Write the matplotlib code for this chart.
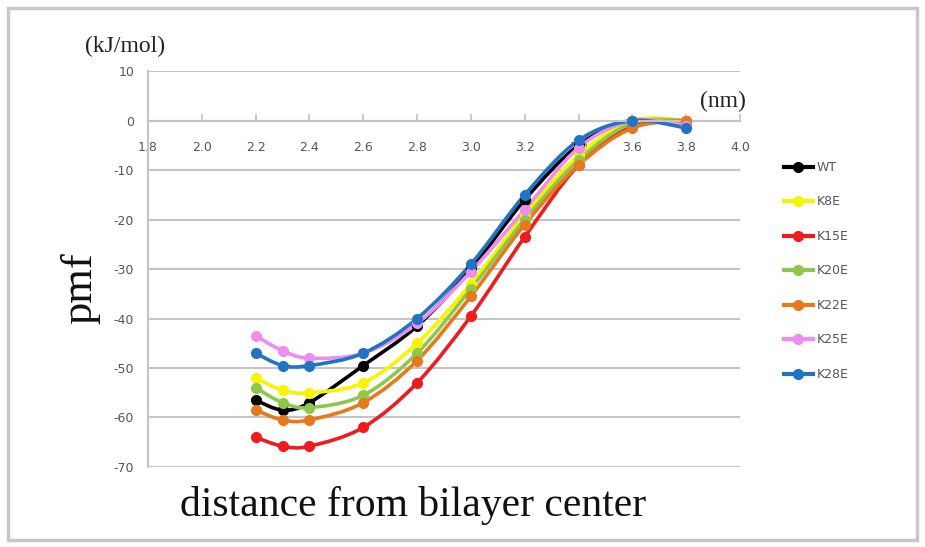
import numpy as np
import matplotlib.pyplot as plt
from matplotlib.path import Path
from matplotlib.patches import PathPatch, FancyBboxPatch
from matplotlib.lines import Line2D

plt.rcParams["axes.unicode_minus"] = False

# distance from bilayer center (nm)
distance = [2.2, 2.3, 2.4, 2.6, 2.8, 3.0, 3.2, 3.4, 3.6, 3.8]

# pmf (kJ/mol) for each mutant
wt = [-56.5, -58.5, -57.0, -49.5, -41.5, -30.0, -16.0, -5.0, 0.0, -1.0]
k8e = [-52.0, -54.5, -55.0, -53.0, -45.0, -33.0, -19.0, -7.0, 0.0, 0.0]
k15e = [-64.0, -65.8, -65.8, -62.0, -53.0, -39.5, -23.5, -9.0, -1.0, 0.0]
k20e = [-54.0, -57.0, -58.0, -55.5, -47.0, -34.0, -20.0, -8.0, -0.5, 0.0]
k22e = [-58.5, -60.5, -60.5, -57.0, -48.5, -35.5, -21.0, -9.0, -1.5, 0.0]
k25e = [-43.5, -46.5, -48.0, -47.0, -41.0, -30.5, -18.0, -5.5, 0.0, -1.0]
k28e = [-47.0, -49.5, -49.5, -47.0, -40.0, -29.0, -15.0, -4.0, 0.0, -1.5]

labels = ["WT", "K8E", "K15E", "K20E", "K22E", "K25E", "K28E"]
series = [wt, k8e, k15e, k20e, k22e, k25e, k28e]
colors = ["#000000", "#f8f400", "#ee1c1c", "#8cc84b", "#e6781e", "#f08cf0", "#1f74c4"]

xticks = [1.8, 2.0, 2.2, 2.4, 2.6, 2.8, 3.0, 3.2, 3.4, 3.6, 3.8, 4.0]
yticks = [10, 0, -10, -20, -30, -40, -50, -60, -70]


def smooth_path(x, y):
    # Excel-like smoothed line: bezier segments through the data points
    pts = np.column_stack([x, y])
    verts = [pts[0]]
    codes = [Path.MOVETO]
    n = len(pts)
    for i in range(n - 1):
        p0 = pts[max(i - 1, 0)]
        p1 = pts[i]
        p2 = pts[i + 1]
        p3 = pts[min(i + 2, n - 1)]
        c1 = p1 + (p2 - p0) / 6.0
        c2 = p2 - (p3 - p1) / 6.0
        verts += [c1, c2, p2]
        codes += [Path.CURVE4] * 3
    return Path(verts, codes)


fig = plt.figure(figsize=(9.25, 5.47), dpi=100)
fig.patches.append(FancyBboxPatch((0.009, 0.013), 0.982, 0.972, boxstyle="square,pad=0",
                                  transform=fig.transFigure, fill=False,
                                  edgecolor="#c8c8c8", linewidth=2.5))

ax = fig.add_axes([0.16, 0.1463, 0.64, 0.7237])
ax.set_xlim(1.8, 4.0)
ax.set_ylim(-70, 10)

for yv in yticks:
    ax.axhline(yv, color="#c4c4c4", linewidth=1.5, zorder=0)

for ys, c in zip(series, colors):
    ax.add_patch(PathPatch(smooth_path(distance, ys), facecolor="none",
                           edgecolor=c, linewidth=2.6, zorder=2))
    ax.plot(distance, ys, linestyle="none", marker="o", markersize=7,
            color=c, zorder=3)

ax.spines["top"].set_visible(False)
ax.spines["right"].set_visible(False)
ax.spines["bottom"].set_position(("data", 0))
ax.spines["bottom"].set_color("#c4c4c4")
ax.spines["bottom"].set_linewidth(1.5)
ax.spines["left"].set_color("#c4c4c4")
ax.spines["left"].set_linewidth(1.5)

ax.set_xticks(xticks)
ax.set_xticklabels([f"{v:.1f}" for v in xticks])
ax.set_yticks(yticks)
ax.tick_params(axis="x", direction="in", length=5, width=1.2, color="#c4c4c4",
               pad=15, labelsize=9, labelcolor="#555555")
ax.tick_params(axis="y", length=0, pad=10, labelsize=9, labelcolor="#555555")

fig.text(0.092, 0.905, "(kJ/mol)", family="Liberation Serif", fontsize=17, color="#222222")
fig.text(0.757, 0.805, "(nm)", family="Liberation Serif", fontsize=17, color="#222222")
fig.text(0.087, 0.473, "pmf", family="Liberation Serif", fontsize=32, rotation=90,
         ha="center", va="center", color="#111111")
fig.text(0.447, 0.075, "distance from bilayer center", family="Liberation Serif",
         fontsize=30, ha="center", va="center", color="#111111")

handles = [Line2D([0], [0], color=c, linewidth=3, marker="o", markersize=7) for c in colors]
fig.legend(handles, labels, loc="upper left", bbox_to_anchor=(0.842, 0.715),
           frameon=False, fontsize=9, labelcolor="#555555", handlelength=2.3,
           handletextpad=0.3, labelspacing=1.72, borderaxespad=0)

fig.savefig("out.png", dpi=100)
